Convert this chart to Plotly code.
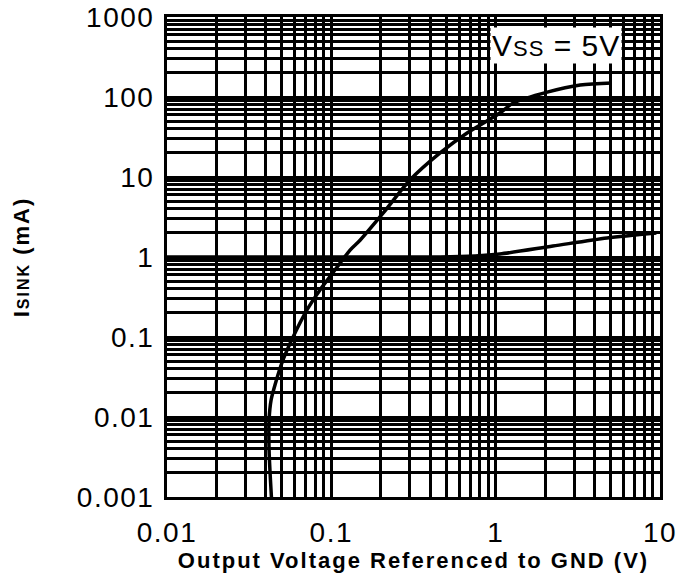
import plotly.graph_objects as go

# Curve 1: high-current branch (V, mA)
c1_v = [0.0432, 0.0418, 0.0418, 0.0430, 0.0454, 0.0508, 0.0585, 0.0711, 0.0853,
        0.102, 0.130, 0.150, 0.207, 0.301, 0.459, 0.670, 1.06, 1.28, 2.06, 3.27, 5.1]
c1_i = [0.001, 0.00387, 0.00918, 0.0163, 0.0251, 0.0516, 0.100, 0.218, 0.387,
        0.631, 1.22, 1.63, 3.55, 9.17, 20.0, 35.5, 63.0, 84.0, 115.0, 141.0, 150.0]

# Curve 2: low-current branch (V, mA)
c2_v = [0.01, 0.1, 0.3, 0.459, 0.75, 1.06, 2.23, 4.76, 9.5]
c2_i = [1.0, 1.0, 1.0, 1.0, 1.03, 1.09, 1.37, 1.73, 2.0]

x_ticks = [0.01, 0.1, 1, 10]
x_ticktext = ["0.01", "0.1", "1", "10"]
y_ticks = [0.001, 0.01, 0.1, 1, 10, 100, 1000]
y_ticktext = ["0.001", "0.01", "0.1", "1", "10", "100", "1000"]

FONT = "Liberation Sans, Arial, sans-serif"
SP = "letter-spacing:1.5px"

def spaced(s, style=SP):
    return f"<span style='{style}'>{s}</span>"

fig = go.Figure()
for xs, ys in [(c1_v, c1_i), (c2_v, c2_i)]:
    fig.add_trace(go.Scatter(x=xs, y=ys, mode="lines",
                             line=dict(color="black", width=3.5, shape="spline", smoothing=0.8),
                             showlegend=False, hoverinfo="skip"))

axis_common = dict(
    type="log", automargin=False,
    showgrid=True, gridcolor="black", gridwidth=2.5,
    showline=True, linecolor="black", linewidth=3, mirror=True,
    ticks="", zeroline=False, ticklabeloverflow="allow",
    tickfont=dict(family=FONT, size=28, color="black"),
    minor=dict(showgrid=True, gridcolor="black", gridwidth=2.5, dtick="D1"),
)

fig.update_xaxes(**axis_common, range=[-2, 1], tickvals=x_ticks,
                 ticktext=[spaced(t) for t in x_ticktext],
                 ticklabelstandoff=8,
                 title=dict(text="<b>" + spaced("Output Voltage Referenced to GND (V)", "letter-spacing:2px") + "</b>",
                            font=dict(family=FONT, size=22, color="black"), standoff=2))
fig.update_yaxes(**axis_common, range=[-3, 3], tickvals=y_ticks,
                 ticktext=[spaced(t) for t in y_ticktext],
                 ticklabelstandoff=4,
                 title=dict(text="<b><span style='letter-spacing:2px'>I</span>"
                                 "<span style='font-size:16px;letter-spacing:2px'>SINK</span>"
                                 "<span style='letter-spacing:2px'> (mA)</span></b>",
                            font=dict(family=FONT, size=22, color="black"), standoff=42))

fig.add_annotation(xref="paper", yref="paper", x=0.789, y=0.94,
                   xanchor="center", yanchor="middle",
                   text="<span style='letter-spacing:1px'>V</span>"
                        "<span style='font-size:22px;letter-spacing:1px'>SS</span>"
                        "<span style='letter-spacing:1px'> = 5V</span>",
                   showarrow=False, bgcolor="white", borderpad=1,
                   font=dict(family=FONT, size=30, color="black"))

fig.update_layout(width=677, height=582,
                  margin=dict(l=167, r=17, t=17, b=85),
                  plot_bgcolor="white", paper_bgcolor="white")

fig.write_html("out.html")
